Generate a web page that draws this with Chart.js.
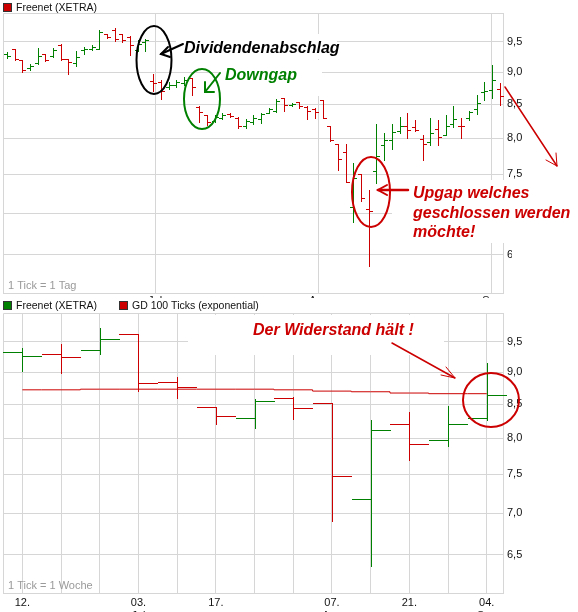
<!DOCTYPE html>
<html>
<head>
<meta charset="utf-8">
<script src="https://cdn.jsdelivr.net/npm/chart.js@4.4.1/dist/chart.umd.min.js"></script>
<style>
  html, body { margin: 0; padding: 0; background: #fff; overflow: hidden; }
  #wrap { position: relative; width: 578px; height: 612px; overflow: hidden; background: #fff; }
  #dayCanvas { position: absolute; left: 0; top: 0; }
  #weekCanvas { position: absolute; left: 0; top: 298px; background: #fff; }
</style>
</head>
<body>
<div id="wrap">
  <canvas id="dayCanvas" width="578" height="320"></canvas>
  <canvas id="weekCanvas" width="578" height="330"></canvas>
</div>
<script>
// ---- daily bars (Freenet, XETRA) ----
const dayOpen  = [9.30,9.37,9.20,9.06,9.15, 9.29,9.27,9.44,9.21,9.14, 9.36,9.38,9.38,9.63,9.70, 9.64,9.58,9.36,9.50,8.86,
                  8.84,8.76,8.79,8.82,8.90, 8.46,8.34,8.25,8.30,8.35, 8.30,8.17,8.24,8.28,8.37, 8.40,8.59,8.49,8.53,8.46,
                  8.43,8.57,8.18,7.91,7.80, 7.08,7.50,7.05,7.55,7.90, 7.98,8.10,8.18,8.16,7.99, 7.95,8.13,8.05,8.20,8.18,
                  8.29,8.42,8.69,8.71,8.73];
const dayHigh  = [9.33,9.38,9.20,9.13,9.40, 9.30,9.40,9.46,9.22,9.35, 9.42,9.44,9.70,9.64,9.74, 9.64,9.60,9.53,9.55,8.97,
                  8.88,8.84,8.87,8.92,8.91, 8.47,8.34,8.33,8.37,8.37, 8.31,8.28,8.34,8.37,8.44, 8.58,8.60,8.52,8.54,8.47,
                  8.44,8.57,8.18,7.91,7.92, 7.65,7.50,7.30,8.20,8.07, 8.20,8.31,8.37,8.27,8.05, 8.29,8.27,8.34,8.47,8.29,
                  8.39,8.64,8.85,9.12,8.83];
const dayLow   = [9.23,9.20,9.00,9.04,9.13, 9.18,9.25,9.20,8.97,9.10, 9.30,9.36,9.37,9.56,9.52, 9.50,9.28,9.34,9.34,8.70,
                  8.58,8.73,8.76,8.80,8.64, 8.23,8.19,8.23,8.28,8.31, 8.15,8.15,8.20,8.22,8.36, 8.38,8.40,8.47,8.44,8.28,
                  8.30,8.29,7.96,7.56,7.40, 6.89,7.15,6.37,7.39,7.70, 7.84,8.07,8.00,8.10,7.69, 7.90,7.90,8.05,8.16,8.00,
                  8.27,8.35,8.57,8.60,8.49];
const dayClose = [9.26,9.22,9.04,9.10,9.26, 9.20,9.36,9.21,9.16,9.25, 9.38,9.41,9.67,9.58,9.55, 9.53,9.44,9.47,9.53,8.83,
                  8.70,8.80,8.84,8.87,8.77, 8.38,8.24,8.31,8.34,8.32, 8.18,8.25,8.30,8.35,8.42, 8.55,8.48,8.50,8.47,8.40,
                  8.38,8.30,7.98,7.71,7.40, 7.45,7.19,7.03,7.75,7.98, 8.09,8.18,8.12,8.11,7.92, 8.08,8.02,8.17,8.28,8.17,
                  8.38,8.51,8.70,8.88,8.62];
const dayPrevClose = 9.20;
const dayMonthBounds = [19.25, 40.5, 63];
const dayMonthLabels = ['Jul', 'Aug', 'Sep'];

// ---- weekly bars and 100-tick exponential average ----
const weekLabels = ['12.', '', '', '03.', '', '17.', '', '', '07.', '', '21.', '', '04.'];
const weekMonths = ['', '', '', 'Jul', '', '', '', '', 'Aug', '', '', '', 'Sep'];
const weekOpen  = [9.33, 9.30, 9.36, 9.64, 8.84, 8.46, 8.30, 8.60, 8.51, 7.18, 8.21, 7.97, 8.30];
const weekHigh  = [9.40, 9.47, 9.74, 9.64, 8.92, 8.46, 8.58, 8.61, 8.52, 8.26, 8.38, 8.47, 9.14];
const weekLow   = [9.01, 8.99, 9.30, 8.70, 8.59, 8.21, 8.15, 8.28, 6.90, 6.37, 7.70, 7.89, 8.27];
const weekClose = [9.26, 9.25, 9.55, 8.83, 8.77, 8.32, 8.55, 8.44, 7.48, 8.11, 7.92, 8.21, 8.64];
const weekPrevClose = 9.10;
const weekEma   = [8.72, 8.72, 8.73, 8.73, 8.73, 8.73, 8.73, 8.72, 8.70, 8.69, 8.67, 8.66, 8.66];

// ---- shared price axis ----
const priceTicks = [6.5, 7, 7.5, 8, 8.5, 9, 9.5];
const priceMin = 6.07, priceMax = 10.0;

const GREEN = '#008000', RED = '#cc0000', GRID = '#d6d6d6', INK = '#111';
const FONT = '"Liberation Sans", Arial, sans-serif';
const NOTE = 'italic bold 16px ' + FONT;
Chart.defaults.font.family = FONT;
Chart.defaults.font.size = 11;
Chart.defaults.color = INK;

const fmtPrice = v => Number(v).toFixed(1).replace('.', ',');
const barColor = (close, prev) => close >= prev ? GREEN : RED;

function priceAxis() {
  return {
    type: 'logarithmic', position: 'right', min: priceMin, max: priceMax,
    afterBuildTicks: s => { s.ticks = priceTicks.map(v => ({ value: v })); },
    afterFit: s => { s.width = 75; },
    ticks: { callback: v => fmtPrice(v), padding: 4, autoSkip: false, color: INK, font: { size: 11 } },
    grid: { color: GRID, drawTicks: false },
    border: { color: GRID }
  };
}

// open-high-low-close bars drawn through the chart's scales
function ohlcLayer(id, ser, tickShare) {
  return {
    id,
    afterDatasetsDraw(chart) {
      const { ctx, scales: { x, y } } = chart;
      const tick = (x.getPixelForValue(1) - x.getPixelForValue(0)) * tickShare;
      ctx.save();
      ctx.lineWidth = 1;
      let prev = ser.prevClose;
      ser.close.forEach((c, i) => {
        const px = Math.round(x.getPixelForValue(i)) + 0.5;
        const yHi = Math.round(y.getPixelForValue(ser.high[i]));
        const yLo = Math.round(y.getPixelForValue(ser.low[i]));
        const yOp = Math.round(y.getPixelForValue(ser.open[i])) + 0.5;
        const yCl = Math.round(y.getPixelForValue(c)) + 0.5;
        ctx.strokeStyle = barColor(c, prev);
        prev = c;
        ctx.beginPath();
        ctx.moveTo(px, yHi); ctx.lineTo(px, yLo + 1);
        ctx.moveTo(Math.round(px - tick), yOp); ctx.lineTo(px, yOp);
        ctx.moveTo(px, yCl); ctx.lineTo(Math.round(px + tick), yCl);
        ctx.stroke();
      });
      ctx.restore();
    }
  };
}

// plot frame on the left and top edges, plus the tick-size caption
function frameLayer(id, caption) {
  return {
    id,
    beforeDatasetsDraw(chart) {
      const { ctx, chartArea: a } = chart;
      ctx.save();
      ctx.strokeStyle = GRID; ctx.lineWidth = 1;
      ctx.beginPath();
      ctx.moveTo(a.left + 0.5, a.bottom); ctx.lineTo(a.left + 0.5, a.top + 0.5); ctx.lineTo(a.right, a.top + 0.5);
      ctx.stroke();
      ctx.fillStyle = '#9a9a9a';
      ctx.font = '11px ' + FONT;
      ctx.textBaseline = 'alphabetic';
      ctx.fillText(caption, a.left + 5, a.bottom - 4);
      ctx.restore();
    }
  };
}

// legend row: one square + name per entry
function legendLayer(id, entries) {
  return {
    id,
    afterDraw(chart) {
      const ctx = chart.ctx;
      ctx.save();
      ctx.font = '10.5px ' + FONT;
      ctx.textBaseline = 'middle';
      entries.forEach(e => {
        const label = chart.data.datasets[e.dataset].label;
        ctx.fillStyle = e.color;
        ctx.fillRect(e.x, 3, 8, 8);
        ctx.strokeStyle = '#333'; ctx.lineWidth = 1;
        ctx.strokeRect(e.x + 0.5, 3.5, 8, 8);
        ctx.fillStyle = INK;
        ctx.fillText(label, e.x + 13, 8);
      });
      ctx.restore();
    }
  };
}

function ellipse(ctx, cx, cy, rx, ry, color) {
  ctx.strokeStyle = color; ctx.lineWidth = 2;
  ctx.beginPath(); ctx.ellipse(cx, cy, rx, ry, 0, 0, Math.PI * 2); ctx.stroke();
}
function polyline(ctx, pts, color, w) {
  ctx.strokeStyle = color; ctx.lineWidth = w;
  ctx.beginPath();
  pts.forEach((p, i) => i ? ctx.lineTo(p[0], p[1]) : ctx.moveTo(p[0], p[1]));
  ctx.stroke();
}
function note(ctx, text, x, y, color) {
  ctx.font = NOTE; ctx.fillStyle = color; ctx.textBaseline = 'alphabetic';
  ctx.fillText(text, x, y);
}

// hand-made notes on the daily chart
const dayNotes = {
  id: 'dayNotes',
  beforeDatasetsDraw(chart) {
    const ctx = chart.ctx;
    ctx.save();
    ctx.fillStyle = '#fff';
    ctx.fillRect(176, 34, 161, 25);
    ctx.fillRect(221, 60, 101, 36);
    ctx.fillRect(392, 180, 186, 63);
    ctx.fillRect(512, 244, 66, 20);
    ctx.restore();
  },
  afterDraw(chart) {
    const ctx = chart.ctx;
    ctx.save();
    ctx.lineCap = 'round';
    ellipse(ctx, 154, 60, 17.5, 34, '#000');
    polyline(ctx, [[183, 44], [161, 54]], '#000', 2);
    polyline(ctx, [[168, 47], [161, 54], [170, 57]], '#000', 2);
    note(ctx, 'Dividendenabschlag', 184, 53, '#000');

    ellipse(ctx, 202, 99, 18, 30, GREEN);
    polyline(ctx, [[220, 73], [205, 92]], GREEN, 2);
    polyline(ctx, [[205, 82], [205, 92], [214, 92]], GREEN, 2);
    note(ctx, 'Downgap', 225, 80, GREEN);

    ellipse(ctx, 371, 192, 19, 35, RED);
    polyline(ctx, [[408, 190], [378, 190]], RED, 2.5);
    polyline(ctx, [[387, 185], [378, 190], [387, 195]], RED, 2);
    note(ctx, 'Upgap welches', 413, 198, RED);
    note(ctx, 'geschlossen werden', 413, 218, RED);
    note(ctx, 'möchte!', 413, 237, RED);

    polyline(ctx, [[505, 87], [557, 166]], RED, 1.5);
    polyline(ctx, [[546, 160], [557, 166], [556, 153]], RED, 1);
    ctx.restore();
  }
};

// hand-made notes on the weekly chart
const weekNotes = {
  id: 'weekNotes',
  beforeDatasetsDraw(chart) {
    const ctx = chart.ctx;
    ctx.save();
    ctx.fillStyle = '#fff';
    ctx.fillRect(188, 17, 256, 40);
    ctx.restore();
  },
  afterDraw(chart) {
    const ctx = chart.ctx;
    ctx.save();
    ctx.lineCap = 'round';
    note(ctx, 'Der Widerstand hält !', 253, 37, RED);
    polyline(ctx, [[392, 45], [455, 80]], RED, 1.5);
    polyline(ctx, [[441, 77], [455, 80], [446, 69]], RED, 1);
    ellipse(ctx, 491, 102, 28, 27, RED);
    ctx.restore();
  }
};

const daySeries = { open: dayOpen, high: dayHigh, low: dayLow, close: dayClose, prevClose: dayPrevClose };
const weekSeries = { open: weekOpen, high: weekHigh, low: weekLow, close: weekClose, prevClose: weekPrevClose };
const lastColor = s => barColor(s.close[s.close.length - 1], s.close[s.close.length - 2]);

new Chart(document.getElementById('dayCanvas'), {
  type: 'line',
  data: {
    datasets: [{
      label: 'Freenet (XETRA)',
      data: dayClose.map((c, i) => ({ x: i, y: c })),
      showLine: false, pointRadius: 0, borderWidth: 0
    }]
  },
  options: {
    responsive: false, animation: false, devicePixelRatio: 1,
    layout: { padding: { left: 3, top: 13, right: 0, bottom: 0 } },
    plugins: { legend: { display: false }, tooltip: { enabled: false } },
    events: [],
    scales: {
      x: {
        type: 'linear', min: -0.5, max: 64.44,
        afterBuildTicks: s => { s.ticks = dayMonthBounds.map(v => ({ value: v })); },
        afterFit: s => { s.height = 27; },
        ticks: { callback: (v, i) => dayMonthLabels[i], autoSkip: false, maxRotation: 0, padding: 1, color: INK },
        grid: { color: GRID, drawTicks: false },
        border: { color: GRID }
      },
      y: priceAxis()
    }
  },
  plugins: [
    frameLayer('dayFrame', '1 Tick = 1 Tag'),
    dayNotes,
    ohlcLayer('dayBars', daySeries, 0.4),
    legendLayer('dayLegend', [{ dataset: 0, x: 3, color: lastColor(daySeries) }])
  ]
});

new Chart(document.getElementById('weekCanvas'), {
  type: 'line',
  data: {
    datasets: [
      {
        label: 'Freenet (XETRA)',
        data: weekClose.map((c, i) => ({ x: i, y: c })),
        showLine: false, pointRadius: 0, borderWidth: 0
      },
      {
        label: 'GD 100 Ticks (exponential)',
        data: weekEma.map((v, i) => ({ x: i, y: v })),
        stepped: 'middle', borderColor: RED, borderWidth: 1, pointRadius: 0, fill: false
      }
    ]
  },
  options: {
    responsive: false, animation: false, devicePixelRatio: 1,
    layout: { padding: { left: 3, top: 15, right: 0, bottom: 0 } },
    plugins: { legend: { display: false }, tooltip: { enabled: false } },
    events: [],
    scales: {
      x: {
        type: 'linear', min: -0.5, max: 12.42,
        afterBuildTicks: s => { s.ticks = weekLabels.map((_, i) => ({ value: i })); },
        afterFit: s => { s.height = 35; },
        ticks: {
          callback: (v, i) => weekMonths[i] ? [weekLabels[i], weekMonths[i]] : weekLabels[i],
          autoSkip: false, maxRotation: 0, padding: 3, color: INK
        },
        grid: { color: GRID, drawTicks: false },
        border: { color: GRID }
      },
      y: priceAxis()
    }
  },
  plugins: [
    frameLayer('weekFrame', '1 Tick = 1 Woche'),
    weekNotes,
    ohlcLayer('weekBars', weekSeries, 0.5),
    legendLayer('weekLegend', [
      { dataset: 0, x: 3, color: lastColor(weekSeries) },
      { dataset: 1, x: 119, color: RED }
    ])
  ]
});
</script>
</body>
</html>
